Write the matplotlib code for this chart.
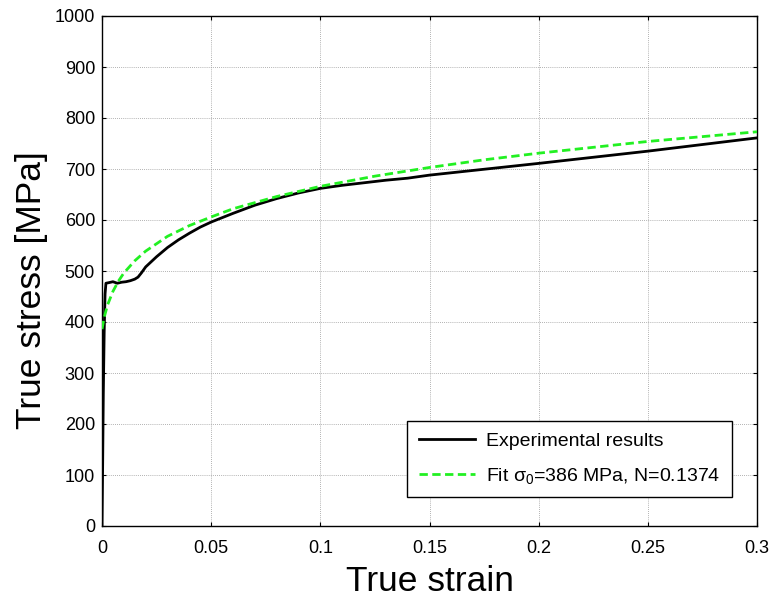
import matplotlib
matplotlib.use("Agg")
import matplotlib.pyplot as plt

plt.rcParams['font.family'] = ['Liberation Sans', 'DejaVu Sans']
plt.rcParams['mathtext.fontset'] = 'custom'
plt.rcParams['mathtext.rm'] = 'Liberation Sans'
plt.rcParams['mathtext.it'] = 'Liberation Sans'

# Experimental true stress-strain data
exp_strain = [0.0, 0.0003, 0.0006, 0.001, 0.0014, 0.0018, 0.003, 0.005, 0.007, 0.009,
              0.011, 0.013, 0.015, 0.0165, 0.018, 0.02, 0.025, 0.03, 0.035, 0.04,
              0.045, 0.05, 0.06, 0.07, 0.08, 0.09, 0.1, 0.11, 0.12, 0.13,
              0.14, 0.15, 0.2, 0.25, 0.3]
exp_stress = [0, 120, 260, 380, 455, 476, 477, 479, 476, 478,
              479, 481, 484, 488, 496, 508, 528, 546, 561, 574,
              586, 596, 613, 629, 642, 653, 662, 668, 673, 678,
              682, 688, 711, 735, 761]

# Fit curve
fit_strain = [0.0, 0.001, 0.0025, 0.005, 0.0075, 0.01, 0.015, 0.02, 0.03, 0.04,
              0.05, 0.06, 0.08, 0.1, 0.125, 0.15, 0.175, 0.2, 0.25, 0.3]
fit_stress = [386, 409, 433, 460, 480, 496, 520, 539, 568, 589,
              606, 622, 646, 666, 686, 703, 718, 731, 754, 773]

xticks = [0, 0.05, 0.1, 0.15, 0.2, 0.25, 0.3]
xticklabels = ['0', '0.05', '0.1', '0.15', '0.2', '0.25', '0.3']
yticks = [0, 100, 200, 300, 400, 500, 600, 700, 800, 900, 1000]

fig = plt.figure(figsize=(7.72, 5.99), dpi=100)
ax = fig.add_axes([102/772, 73/599, 655/772, 510/599])

ax.plot(exp_strain, exp_stress, color='black', lw=2.0, label='Experimental results', zorder=3)
ax.plot(fit_strain, fit_stress, color='#22f022', lw=2.0, dashes=(3, 1.6),
        label='Fit σ$_0$=386 MPa, N=0.1374', zorder=4)

ax.set_xlim(0, 0.3)
ax.set_ylim(0, 1000)
ax.set_xticks(xticks)
ax.set_xticklabels(xticklabels)
ax.set_yticks(yticks)
ax.grid(True, color='#999999', linestyle=(0, (1, 1.5)), lw=0.6)
ax.set_axisbelow(True)
ax.tick_params(direction='in', top=True, right=True, length=3, width=0.8, labelsize=13)
ax.tick_params(axis='x', pad=10)
ax.tick_params(axis='y', pad=5)
for s in ax.spines.values():
    s.set_linewidth(1.0)

ax.set_xlabel('True strain', fontsize=25.5, va='baseline')
ax.xaxis.set_label_coords(0.5, -0.127)
ax.set_ylabel('True stress [MPa]', fontsize=25.5, va='center')
ax.yaxis.set_label_coords(-0.108, 0.463)

leg = ax.legend(loc='lower right', bbox_to_anchor=(0.9614, 0.0563), borderaxespad=0,
                fontsize=14, frameon=True, fancybox=False, edgecolor='black',
                framealpha=1, handlelength=2.9, handletextpad=0.55, labelspacing=0.8,
                borderpad=0.6)
leg.get_frame().set_linewidth(1.0)

fig.savefig('out.png', dpi=100)
